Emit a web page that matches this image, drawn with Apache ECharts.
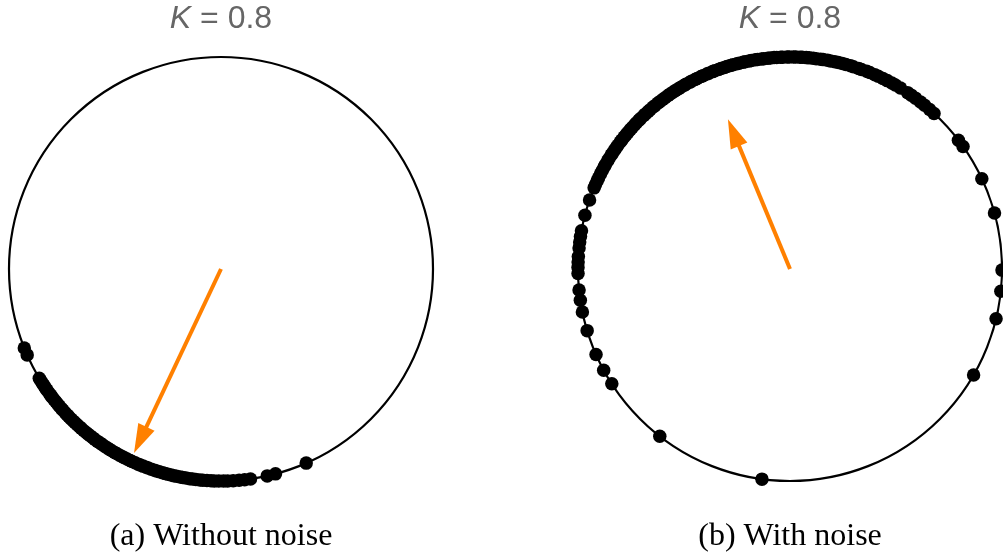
<!DOCTYPE html>
<html>
<head>
<meta charset="utf-8">
<title>Phase oscillators, K = 0.8</title>
<script src="https://cdn.jsdelivr.net/npm/echarts@6/dist/echarts.min.js"></script>
<style>
  html, body { margin: 0; padding: 0; background: #fff; }
  #chart { width: 1003px; height: 557px; }
</style>
</head>
<body>
<div id="chart"></div>
<script>
// Oscillator phases in degrees (counter-clockwise from the positive x direction)
var phasesNoNoise = [
  201.9, 203.9,
  211.0, 211.7, 212.6, 213.3, 214.2, 214.8, 215.7, 216.5, 217.1, 218.0,
  218.8, 219.5, 220.3, 221.2, 221.8, 222.7, 223.5, 224.1, 225.0, 225.9,
  226.5, 227.3, 228.2, 228.8, 229.7, 230.6, 231.2, 232.0, 232.9, 233.5,
  234.4, 235.2, 235.8, 236.7, 237.6, 238.2, 239.0, 239.9, 240.5, 241.4,
  242.3, 242.9, 243.7, 244.6, 245.2, 246.1, 247.0, 247.6, 248.4, 249.3,
  249.9, 250.8, 251.7, 252.3, 253.1, 254.0, 254.7, 255.5, 256.4, 257.1,
  257.9, 258.9, 259.6, 260.5, 261.5, 262.3, 263.2, 264.3, 265.1, 266.2,
  267.3, 268.2, 269.4, 270.7, 271.8, 273.3, 274.9, 276.4, 278.0,
  282.6, 284.9, 293.7
];

var phasesNoise = [
  15.3, 25.2, 35.3, 37.4,
  47.2, 48.8, 50.6, 52.0, 53.7, 55.1, 56.3,
  58.6, 60.2, 61.3, 62.7, 64.0, 65.4, 66.4, 67.9, 68.8, 70.3, 71.1, 72.6,
  73.4, 74.7, 75.7, 76.8, 77.8, 79.0, 79.8, 81.0, 81.7, 82.9, 83.7, 84.8,
  85.6, 86.7, 87.3, 88.4, 89.1, 90.2, 90.8, 92.0, 92.5, 93.6, 94.3, 95.3,
  96.0, 97.1, 97.7, 98.8, 99.4, 100.5, 101.1, 102.2, 102.8, 103.9, 104.5,
  105.6, 106.3, 107.3, 108.0, 109.0, 109.7, 110.8, 111.4, 112.5, 113.1,
  114.2, 114.8, 116.0, 116.6, 117.7, 118.2, 119.4, 119.9, 121.0, 121.7,
  122.7, 123.4, 124.4, 125.1, 126.1, 126.9, 127.9, 128.5, 129.6, 130.2,
  131.3, 132.0, 133.0, 133.6, 134.8, 135.4, 136.4, 137.1, 138.1, 138.9,
  139.9, 140.6, 141.5, 142.5, 143.2, 144.3, 145.0, 145.9, 146.9, 147.5,
  148.6, 149.4, 150.5, 151.2, 152.3, 153.4, 154.6, 155.5, 156.6, 157.5,
  161.0, 165.3,
  169.6, 171.2, 172.7, 174.3, 176.6, 178.1, 179.6, 181.2,
  185.7, 188.5, 191.7, 196.9, 203.8, 208.5, 212.8, 232.1, 262.4,
  330.0, 346.4, 354.0, 359.7
];

// Order parameter of each ensemble: [magnitude r, mean phase in degrees]
var orderNoNoise = [0.96, 244.7];
var orderNoise = [0.765, 112.5];

var titles = ['K', 'K'];
var coupling = ['0.8', '0.8'];
var captions = ['(a) Without noise', '(b) With noise'];

var panelCenters = [[221, 269], [790, 269]];
var panelRadius = 212;

var sansFamily = '"Liberation Sans", Arial, sans-serif';
var serifFamily = '"Liberation Serif", "Times New Roman", serif';

var chart = echarts.init(document.getElementById('chart'), null, { renderer: 'canvas' });

function toPoints(phases) {
  return phases.map(function (a) { return [1, a]; });
}

// Arrow from the circle centre to the order-parameter point
function arrowRender(params, api) {
  var r = api.value(0);
  var ang = api.value(1);
  var c = api.coord([0, ang]);
  var t = api.coord([r, ang]);
  var dx = t[0] - c[0], dy = t[1] - c[1];
  var len = Math.sqrt(dx * dx + dy * dy);
  var ux = dx / len, uy = dy / len;
  var headLen = 29, headHalf = 9;
  var bx = t[0] - ux * headLen, by = t[1] - uy * headLen;
  var px = -uy, py = ux;
  return {
    type: 'group',
    children: [
      {
        type: 'line',
        shape: { x1: c[0], y1: c[1], x2: bx + ux * 2, y2: by + uy * 2 },
        style: { stroke: '#ff8000', lineWidth: 4, lineCap: 'butt' }
      },
      {
        type: 'polygon',
        shape: { points: [[t[0], t[1]], [bx + px * headHalf, by + py * headHalf], [bx - px * headHalf, by - py * headHalf]] },
        style: { fill: '#ff8000' }
      }
    ]
  };
}

var polar = [], angleAxis = [], radiusAxis = [], series = [], graphic = [];
var phaseSets = [phasesNoNoise, phasesNoise];
var orders = [orderNoNoise, orderNoise];

for (var i = 0; i < 2; i++) {
  polar.push({ center: panelCenters[i], radius: panelRadius });
  angleAxis.push({
    polarIndex: i, type: 'value', min: 0, max: 360, startAngle: 0, clockwise: false,
    axisLine: { show: true, lineStyle: { color: '#000', width: 2.2 } },
    axisTick: { show: false }, axisLabel: { show: false }, splitLine: { show: false }
  });
  radiusAxis.push({
    polarIndex: i, type: 'value', min: 0, max: 1, show: false,
    axisLine: { show: false }, axisTick: { show: false }, axisLabel: { show: false }, splitLine: { show: false }
  });
  series.push({
    type: 'scatter', coordinateSystem: 'polar', polarIndex: i,
    symbol: 'circle', symbolSize: 13.5,
    itemStyle: { color: '#000', opacity: 1 },
    silent: true, animation: false, z: 2,
    data: toPoints(phaseSets[i])
  });
  series.push({
    type: 'custom', coordinateSystem: 'polar', polarIndex: i,
    renderItem: arrowRender, silent: true, animation: false, z: 5,
    data: [orders[i]]
  });
  graphic.push({
    type: 'text', x: panelCenters[i][0], y: 19, z: 10,
    style: {
      text: '{i|' + titles[i] + '}{n| = ' + coupling[i] + '}',
      align: 'center', verticalAlign: 'middle',
      fill: '#666', fontSize: 32, fontFamily: sansFamily,
      rich: {
        i: { fontStyle: 'italic', fontSize: 32, fontFamily: sansFamily, fill: '#666' },
        n: { fontSize: 32, fontFamily: sansFamily, fill: '#666' }
      }
    }
  });
  graphic.push({
    type: 'text', x: panelCenters[i][0], y: 537, z: 10,
    style: {
      text: captions[i], align: 'center', verticalAlign: 'middle',
      fill: '#000', fontSize: 32, fontFamily: serifFamily
    }
  });
}

chart.setOption({
  backgroundColor: '#fff',
  animation: false,
  polar: polar,
  angleAxis: angleAxis,
  radiusAxis: radiusAxis,
  series: series,
  graphic: graphic
});
</script>
</body>
</html>
